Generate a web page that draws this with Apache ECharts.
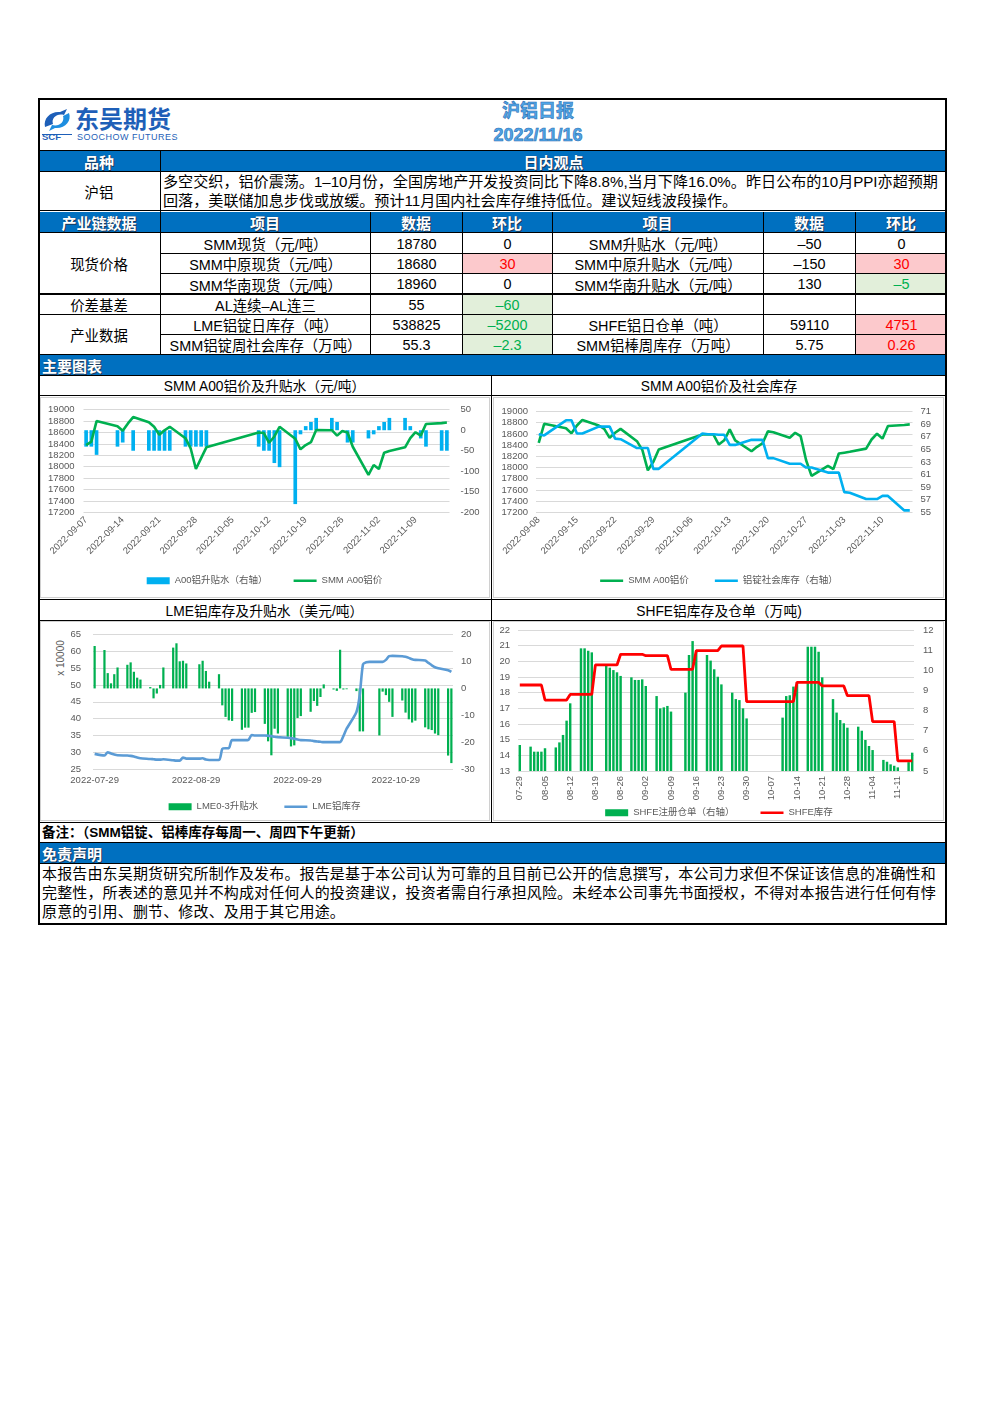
<!DOCTYPE html>
<html lang="zh-CN"><head><meta charset="utf-8"><title>沪铝日报</title>
<script src="https://cdn.jsdelivr.net/npm/echarts@6/dist/echarts.min.js"></script>
<style>
html,body{margin:0;padding:0;background:#fff;}
body{width:992px;height:1403px;position:relative;overflow:hidden;font-family:'Liberation Sans','Noto Sans CJK SC',sans-serif;color:#000;}
.ln{position:absolute;background:#000;}
.blue{position:absolute;background:#0070c0;}
.ht{position:absolute;color:#fff;font-weight:bold;font-size:15px;text-shadow:1px 1px 0 #1b3a5c,0 0 1px #1b3a5c;white-space:nowrap;display:flex;align-items:center;justify-content:center;}
.c{position:absolute;display:flex;align-items:center;justify-content:center;white-space:nowrap;font-size:14.4px;}
.t{position:absolute;white-space:nowrap;}
.chart{position:absolute;}
.gbox{position:absolute;border:1px solid #d0d0d0;box-sizing:border-box;}
.title{position:absolute;left:400px;width:276px;text-align:center;color:#4fa6e8;font-weight:bold;-webkit-text-stroke:0.6px #2f6fb2;font-family:'Noto Sans CJK SC','Liberation Sans',sans-serif;}
</style></head><body>
<script>
// ---------------- DATA ----------------
const reportTitle = '沪铝日报';
const reportDate = '2022/11/16';
const viewText = ['多空交织，铝价震荡。1–10月份，全国房地产开发投资同比下降8.8%,当月下降16.0%。昨日公布的10月PPI亦超预期',
                  '回落，美联储加息步伐或放缓。预计11月国内社会库存维持低位。建议短线波段操作。'];
const tableHead = ['产业链数据','项目','数据','环比','项目','数据','环比'];
const tableGroups = [['现货价格',3],['价差基差',1],['产业数据',2]];
const tableRows = [
 ['SMM现货（元/吨）','18780','0','SMM升贴水（元/吨）','–50','0'],
 ['SMM中原现货（元/吨）','18680','30','SMM中原升贴水（元/吨）','–150','30'],
 ['SMM华南现货（元/吨）','18960','0','SMM华南升贴水（元/吨）','130','–5'],
 ['AL连续–AL连三','55','–60','','',''],
 ['LME铝锭日库存（吨）','538825','–5200','SHFE铝日仓单（吨）','59110','4751'],
 ['SMM铝锭周社会库存（万吨）','55.3','–2.3','SMM铝棒周库存（万吨）','5.75','0.26']
];
const chartTitles = ['SMM A00铝价及升贴水（元/吨）','SMM A00铝价及社会库存','LME铝库存及升贴水（美元/吨）','SHFE铝库存及仓单（万吨)'];
const noteText = '备注：（SMM铝锭、铝棒库存每周一、周四下午更新）';
const disclaimer = ['本报告由东吴期货研究所制作及发布。报告是基于本公司认为可靠的且目前已公开的信息撰写，本公司力求但不保证该信息的准确性和',
 '完整性，所表述的意见并不构成对任何人的投资建议，投资者需自行承担风险。未经本公司事先书面授权，不得对本报告进行任何有悖',
 '原意的引用、删节、修改、及用于其它用途。'];

// Chart 1: SMM A00 price & premium
const c1Dates = ['09-07','09-08','09-09','09-13','09-14','09-15','09-16','09-19','09-20','09-21','09-22','09-23','09-26','09-27','09-28','09-29','09-30','10-10','10-11','10-12','10-13','10-14','10-17','10-18','10-19','10-20','10-21','10-24','10-25','10-26','10-27','10-28','10-31','11-01','11-02','11-03','11-04','11-07','11-08','11-09','11-10','11-11','11-14','11-15'];
const c1Price = [18380,18440,18800,18710,18630,18760,18870,18780,18700,18560,18640,18700,18500,18320,17960,18150,18340,18600,18590,18420,18530,18700,18490,18305,18380,18430,18645,18640,18545,18625,18600,18350,17855,18030,17960,18245,18275,18340,18500,18605,18545,18750,18765,18775];
const c1Premium = [-40,-40,-60,-40,-30,0,-50,-50,-50,-50,-50,-50,-40,-40,-40,-40,-40,-40,-50,-50,-80,-90,-180,-10,10,20,30,30,20,0,-30,-30,-20,-10,10,20,30,30,10,0,-20,-40,-50,-50];

// Chart 2: SMM A00 price & social inventory (万吨)
const c2Dates = ['09-08','09-09','09-13','09-14','09-15','09-16','09-19','09-20','09-21','09-22','09-23','09-26','09-27','09-28','09-29','09-30','10-08','10-09','10-10','10-11','10-12','10-13','10-14','10-17','10-18','10-19','10-20','10-21','10-24','10-25','10-26','10-27','10-28','10-31','11-01','11-02','11-03','11-04','11-07','11-08','11-09','11-10','11-11','11-14','11-15'];
const c2Price = [18440,18780,18700,18610,18750,18850,18750,18690,18530,18620,18690,18470,18310,17950,18100,18320,18590,18590,18590,18410,18485,18680,18485,18290,18370,18430,18645,18630,18530,18620,18560,18130,17850,18030,17970,18250,18265,18280,18337,18500,18604,18515,18740,18760,18770];
const c2Stock = [67.4,67.2,69.6,69.6,67.5,67.5,68.6,68.6,68.6,66.7,66.6,65.2,65.2,65.2,61.9,61.9,67.5,67.4,67.4,67.3,67.3,65.7,65.7,66.5,66.5,66.5,63.6,63.6,62.7,62.7,62.7,62.1,62.1,61.3,61.3,61.3,58.2,58.1,57.1,57.1,57.1,57.6,57.6,55.3,55.3];

// Chart 3: LME stocks (x10000 t) & 0-3 spread
const c3Dates = ['07-29','08-01','08-02','08-03','08-04','08-05','08-08','08-09','08-10','08-11','08-12','08-15','08-16','08-17','08-18','08-19','08-22','08-23','08-24','08-25','08-26','08-30','08-31','09-01','09-02','09-05','09-06','09-07','09-08','09-09','09-12','09-13','09-14','09-15','09-16','09-19','09-20','09-21','09-22','09-23','09-26','09-27','09-28','09-29','09-30','10-03','10-04','10-05','10-06','10-07','10-10','10-11','10-12','10-13','10-14','10-17','10-18','10-19','10-20','10-21','10-24','10-25','10-26','10-27','10-28','10-31','11-01','11-02','11-03','11-04','11-07','11-08','11-09','11-10','11-11','11-14','11-15'];
const c3Spread = [15.8,14.3,5.7,1.9,5.3,7.8,8.8,9.7,6.2,4.0,3.3,0.5,-3.7,-1.9,1.3,7.8,15.2,16.8,10.1,10.3,9.3,9.0,10.3,6.5,2.5,5.3,-6.3,-10.6,-11.9,-12.1,-15.4,-14.6,-14.6,-9.1,-8.8,-13.2,-19.7,-24.9,-15.0,-16.8,-18.0,-21.6,-21.2,-11.0,-10.3,-8.7,-4.7,-6.5,-3.2,1.5,-0.4,-0.9,14.4,-0.4,-0.3,-1.0,-16.0,-16.0,null,null,-17.5,-1.2,-2.5,-5.0,-10.6,-4.5,-9.0,-11.5,-12.7,-12.0,-14.5,-15.2,-15.5,-16.8,-17.4,-25.0,-27.8];
const c3Stock = [29.5,29.0,30.0,29.6,29.3,29.1,29.0,28.9,28.7,28.4,28.2,28.0,27.9,27.8,27.8,27.9,27.6,27.5,27.5,28.4,28.1,28.1,28.2,27.8,27.7,27.7,31.0,31.2,31.2,33.6,33.6,33.6,33.7,35.1,35.0,35.0,34.9,34.8,34.6,34.5,34.3,34.2,34.0,33.8,33.6,33.5,33.3,33.2,33.1,33.0,33.0,33.0,33.0,34.8,37.0,42.0,47.0,56.2,56.8,56.9,56.9,56.9,57.5,58.6,58.7,58.6,58.4,58.1,57.7,57.5,57.3,56.6,55.9,55.3,55.0,54.4,53.9];

// Chart 4: SHFE stocks & warrants (万吨)
const c4Dates = ['07-29','08-01','08-02','08-03','08-04','08-05','08-08','08-09','08-10','08-11','08-12','08-15','08-16','08-17','08-18','08-19','08-22','08-23','08-24','08-25','08-26','08-29','08-30','08-31','09-01','09-02','09-05','09-06','09-07','09-08','09-09','09-13','09-14','09-15','09-16','09-19','09-20','09-21','09-22','09-23','09-26','09-27','09-28','09-29','09-30','10-10','10-11','10-12','10-13','10-14','10-17','10-18','10-19','10-20','10-21','10-24','10-25','10-26','10-27','10-28','10-31','11-01','11-02','11-03','11-04','11-07','11-08','11-09','11-10','11-11','11-14','11-15'];
const c4Warrant = [6.29,6.21,5.96,5.96,5.96,6.13,6.17,6.42,6.79,7.50,8.36,11.09,11.09,10.97,10.89,null,10.26,10.13,10.01,9.90,9.72,9.65,9.52,9.52,9.55,9.22,8.72,8.11,8.16,8.23,7.95,8.89,10.76,11.45,11.00,10.76,10.48,10.05,9.68,9.30,8.89,8.57,8.52,8.11,7.61,7.65,8.72,8.76,9.19,9.40,11.17,11.17,11.17,10.92,9.65,8.57,7.90,7.53,7.37,7.15,7.20,7.00,6.54,6.24,6.04,5.55,5.46,5.33,5.26,5.18,5.44,5.91];
const c4Stock = [18.49,18.49,18.49,18.49,18.49,17.53,17.53,17.53,17.53,17.53,17.89,17.89,17.89,17.89,17.89,19.77,19.77,19.77,19.77,19.77,20.45,20.45,20.45,20.45,20.45,20.36,20.36,20.36,20.36,20.36,19.49,19.49,19.49,19.49,20.68,20.68,20.68,20.68,20.68,20.98,20.98,20.98,20.98,20.98,17.43,17.43,17.43,17.43,17.43,18.66,18.66,18.66,18.66,18.66,18.43,18.43,18.43,18.43,18.43,17.81,17.81,17.81,17.81,17.81,16.15,16.15,16.15,16.15,16.15,13.64,13.64,13.64];

// ---------------- LAYOUT HELPERS ----------------
const FONT = "Liberation Sans, Noto Sans CJK SC, sans-serif";
function el(cls,x,y,w,h,html,style){const d=document.createElement('div');d.className=cls;Object.assign(d.style,{left:x+'px',top:y+'px',width:w+'px',height:h+'px'},style||{});if(html!=null)d.innerHTML=html;document.body.appendChild(d);return d;}
function hl(x1,x2,y,t){el('ln',x1,y,x2-x1,t||1);}
function vl(x,y1,y2,t){el('ln',x,y1,t||1,y2-y1);}

// header logo
el('t',42,108,32,34,'<svg width="32" height="34" viewBox="0 0 32 34"><path d="M3 19 C1 10 9 3 18 4 L25 1 L22 7 C15 5 9 10 11 16 Z" fill="#1e5fb8"/><path d="M27 5 C30 13 23 21 13 20 L7 23 L10 17 C17 19 23 14 21 8 Z" fill="#1e8ee0"/><text x="0" y="32" font-size="9.5" font-weight="bold" fill="#1e5fb8" font-family="Liberation Sans">SCF</text><rect x="0" y="26" width="30" height="1" fill="#1e5fb8"/></svg>');
el('t',75,104,110,28,'东吴期货',{fontSize:'24px',fontWeight:'bold',color:'#1e5fb8',fontFamily:"'Noto Sans CJK SC',sans-serif",lineHeight:'28px'});
el('t',77,131,110,12,'SOOCHOW FUTURES',{fontSize:'9px',color:'#1e5fb8',letterSpacing:'0.5px',lineHeight:'12px'});
el('title',400,97,0,24,reportTitle,{fontSize:'18px',lineHeight:'24px',width:'276px'});
el('title',400,123,0,24,reportDate,{fontSize:'18px',lineHeight:'24px',width:'276px',fontFamily:"'Liberation Sans',sans-serif"});

// blue rows
[[151],[212],[355],[843]].forEach(r=>el('blue',38,r[0],909,20));
el('ht',38,151,122,20,'品种');
el('ht',160,151,787,20,'日内观点');
const colX=[38,160,370,462,552,763,855,947];
tableHead.forEach((h,i)=>el('ht',colX[i],212,colX[i+1]-colX[i],20,h));
el('ht',42,355,200,20,'主要图表',{justifyContent:'flex-start'});
el('ht',42,843,200,20,'免责声明',{justifyContent:'flex-start'});

// view row
el('c',38,171,122,40,'沪铝',{fontSize:'14.4px'});
viewText.forEach((s,i)=>el('t',163,172+i*19,785,19,s,{fontSize:'15.1px',lineHeight:'19px'}));

// table
const rowY=[233,253,273,294,314,334,354];
let r0=0;
tableGroups.forEach(g=>{el('c',38,rowY[r0],122,rowY[r0+g[1]]-rowY[r0],g[0]);r0+=g[1];});
tableRows.forEach((row,ri)=>{
  row.forEach((txt,ci)=>{
    const x1=colX[ci+1],x2=colX[ci+2];
    const st={};
    if((ci===2||ci===5)&&txt!==''){
      const v=parseFloat(txt.replace('–','-'));
      if(v>0){st.background='#fcc9cc';st.color='#ff0000';}
      else if(v<0){st.background='#e2efda';st.color='#00b050';}
    }
    el('c',x1+1,rowY[ri]+1,x2-x1-1,rowY[ri+1]-rowY[ri]-1,txt,st);
  });
});

// chart title row
el('c',38,375,453,20,chartTitles[0],{fontSize:'13.8px'});
el('c',491,375,456,20,chartTitles[1],{fontSize:'13.8px'});
el('c',38,600,453,20,chartTitles[2],{fontSize:'13.8px'});
el('c',491,600,456,20,chartTitles[3],{fontSize:'13.8px'});

// note + disclaimer
el('t',42,823,800,19,noteText,{fontSize:'13.5px',fontWeight:'bold',lineHeight:'19px'});
disclaimer.forEach((s,i)=>el('t',42,864+i*19,905,19,s,{fontSize:'15px',lineHeight:'19px',letterSpacing:'0.15px'}));

// lines
hl(38,947,98,2);hl(38,947,923,2);vl(38,98,925,2);vl(945,98,925,2);
hl(38,947,150);hl(38,947,171);hl(38,947,210);hl(38,947,232);
vl(160,151,354);
[370,462,552,763,855].forEach(x=>vl(x,212,354));
hl(160,947,253);hl(160,947,273);hl(38,947,293,2);hl(38,947,314);hl(160,947,334);hl(38,947,354);
hl(38,947,375);hl(38,947,395);vl(491,375,822);
hl(38,947,599);hl(38,947,620);hl(38,947,822);hl(38,947,842);hl(38,947,863);

// chart boxes
el('gbox',40,397,450,201);el('gbox',493,397,451,201);
el('gbox',40,621,450,200);el('gbox',493,621,451,200);
el('t',41,651,40,14,'x 10000',{fontSize:'10px',color:'#595959',transform:'rotate(-90deg)',transformOrigin:'50% 50%',textAlign:'center',lineHeight:'14px'});

// ---------------- CHARTS ----------------
function dayRange(s,e){const out=[];let d=new Date(s+'T00:00:00Z');const end=new Date(e+'T00:00:00Z');while(d<=end){out.push(d.toISOString().slice(0,10));d=new Date(d.getTime()+86400000);}return out;}
function mapTo(days,dates,vals){const m={};dates.forEach((d,i)=>m['2022-'+d]=vals[i]);return days.map(d=>(d in m)?m[d]:null);}
const AX={fontSize:9.5,color:'#595959',fontFamily:FONT};
const LINE_ICON='path://M0,0h0.05v0.05h-0.05zM0,2.2h23v2.6h-23zM22.95,6.95h0.05v0.05h-0.05z';
function yAx(min,max,interval,split,margin){return {type:'value',min,max,interval,axisLine:{show:false},axisTick:{show:false},
  splitLine:{show:!!split,lineStyle:{color:'#d9d9d9',width:1}},axisLabel:Object.assign({margin:margin,formatter:(v)=>String(v)},AX)};}
function xAx(days,label){return {type:'category',data:days,boundaryGap:true,axisLine:{show:false},axisTick:{show:false},axisLabel:Object.assign({},AX,label)};}
function legend(top,items){return {top:top,left:'center',itemWidth:23,itemHeight:7,itemGap:26,textStyle:{fontSize:9.5,color:'#595959',fontFamily:FONT},data:items};}
function mk(x,y,w,h){const d=el('chart',x,y,w,h);return echarts.init(d,null,{renderer:'canvas'});}

// chart 1
const d1=dayRange('2022-09-07','2022-11-15');
mk(40,397,449,200).setOption({animation:false,textStyle:{fontFamily:FONT},
 grid:{left:43.5,right:39.5,top:12.7,bottom:84.7},
 legend:legend(174,[{name:'A00铝升贴水（右轴）',icon:'rect'},{name:'SMM A00铝价',icon:LINE_ICON}]),
 xAxis:xAx(d1,{rotate:45,interval:(i)=>i%7===0,margin:6}),
 yAxis:[yAx(17200,19000,200,true,9),yAx(-200,50,50,false,11)],
 series:[{name:'A00铝升贴水（右轴）',type:'bar',yAxisIndex:1,barWidth:'70%',data:mapTo(d1,c1Dates,c1Premium),itemStyle:{color:'#00b0f0'}},
  {name:'SMM A00铝价',type:'line',data:mapTo(d1,c1Dates,c1Price),connectNulls:true,symbol:'none',lineStyle:{color:'#00b050',width:2.6},itemStyle:{color:'#00b050'}}]});

// chart 2
const d2=dayRange('2022-09-08','2022-11-15');
mk(494,397,450,200).setOption({animation:false,textStyle:{fontFamily:FONT},
 grid:{left:42,right:31.5,top:14.5,bottom:84.7},
 legend:legend(174,[{name:'SMM A00铝价',icon:LINE_ICON},{name:'铝锭社会库存（右轴）',icon:LINE_ICON}]),
 xAxis:xAx(d2,{rotate:45,interval:(i)=>i%7===0,margin:6}),
 yAxis:[yAx(17200,19000,200,true,8),yAx(55,71,2,false,8)],
 series:[{name:'SMM A00铝价',type:'line',data:mapTo(d2,c2Dates,c2Price),connectNulls:true,symbol:'none',lineStyle:{color:'#00b050',width:2.6},itemStyle:{color:'#00b050'}},
  {name:'铝锭社会库存（右轴）',type:'line',yAxisIndex:1,data:mapTo(d2,c2Dates,c2Stock),connectNulls:true,symbol:'none',lineStyle:{color:'#00b0f0',width:2.6},itemStyle:{color:'#00b0f0'}}]});

// chart 3
const d3=dayRange('2022-07-29','2022-11-15');
mk(40,622,449,200).setOption({animation:false,textStyle:{fontFamily:FONT},
 grid:{left:53,right:36,top:12.7,bottom:53},
 legend:legend(175,[{name:'LME0-3升贴水',icon:'rect'},{name:'LME铝库存',icon:LINE_ICON}]),
 xAxis:xAx(d3,{rotate:0,interval:(i,v)=>v.slice(8)==='29',margin:7}),
 yAxis:[yAx(25,65,5,true,12),yAx(-30,20,10,false,8)],
 series:[{name:'LME0-3升贴水',type:'bar',yAxisIndex:1,barWidth:'68%',data:mapTo(d3,c3Dates,c3Spread),itemStyle:{color:'#00b050'}},
  {name:'LME铝库存',type:'line',data:mapTo(d3,c3Dates,c3Stock),connectNulls:true,smooth:0.25,symbol:'none',lineStyle:{color:'#5b9bd5',width:2.6},itemStyle:{color:'#5b9bd5'}}]});

// chart 4
const d4=dayRange('2022-07-29','2022-11-15');
mk(494,622,450,200).setOption({animation:false,textStyle:{fontFamily:FONT},
 grid:{left:24,right:30,top:8,bottom:51},
 legend:legend(181,[{name:'SHFE注册仓单（右轴）',icon:'rect'},{name:'SHFE库存',icon:LINE_ICON}]),
 xAxis:xAx(d4,{rotate:90,interval:(i)=>i%7===0,margin:5,formatter:(v)=>v.slice(5)}),
 yAxis:[yAx(13,22,1,true,8),yAx(5,12,1,false,9)],
 series:[{name:'SHFE注册仓单（右轴）',type:'bar',yAxisIndex:1,barWidth:'68%',data:mapTo(d4,c4Dates,c4Warrant),itemStyle:{color:'#00b050'}},
  {name:'SHFE库存',type:'line',data:mapTo(d4,c4Dates,c4Stock),connectNulls:true,symbol:'none',lineStyle:{color:'#ff0000',width:2.8},itemStyle:{color:'#ff0000'}}]});
</script>
</body></html>
